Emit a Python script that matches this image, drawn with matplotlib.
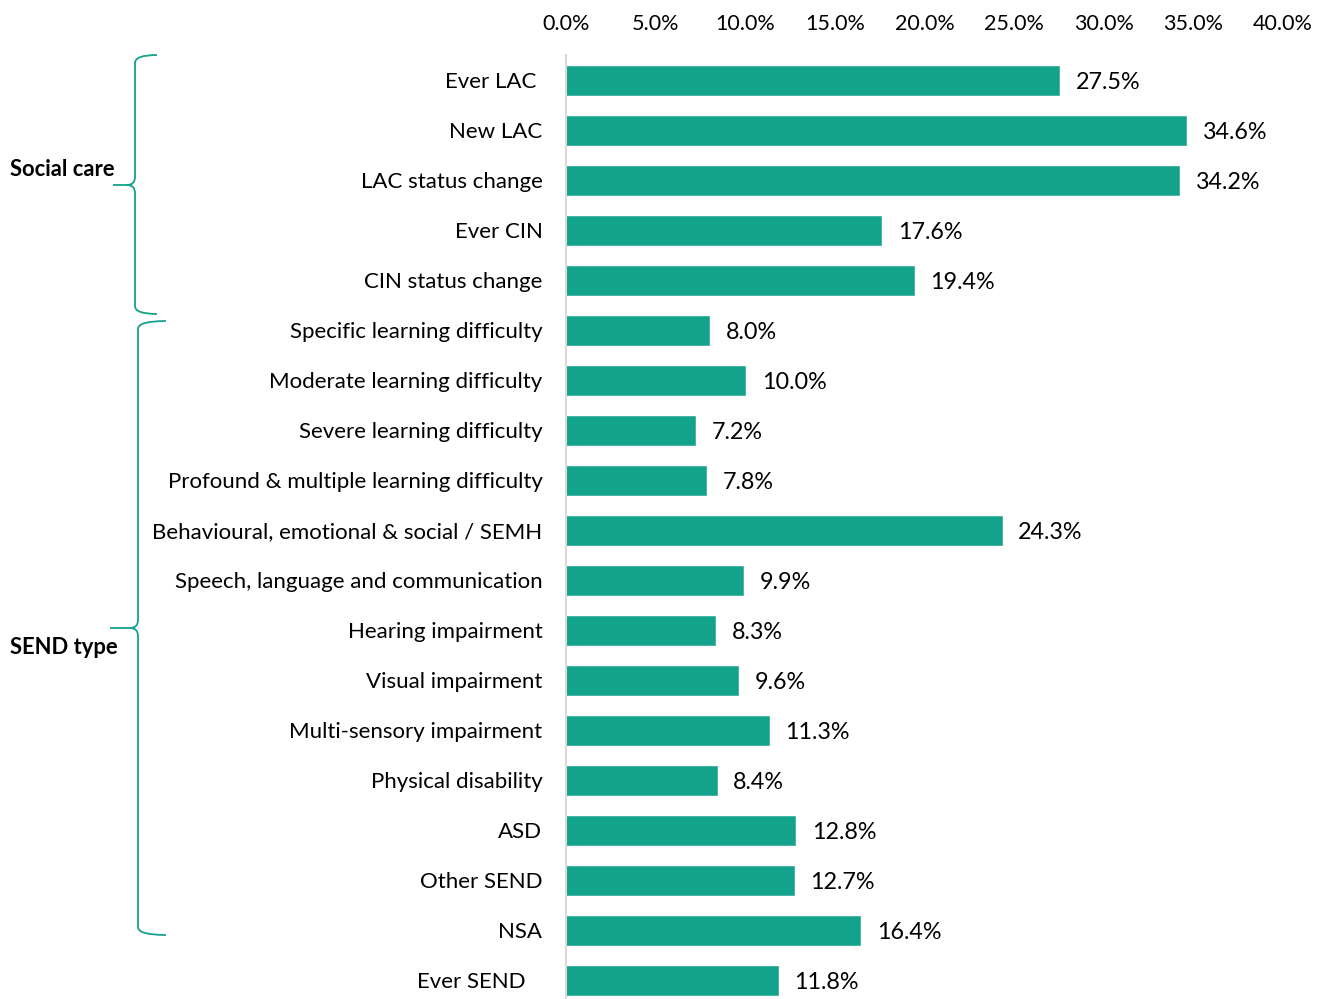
import matplotlib
matplotlib.use('Agg')
import matplotlib.pyplot as plt
from matplotlib.path import Path
from matplotlib.patches import PathPatch
from matplotlib.transforms import Affine2D, blended_transform_factory

categories = [
    "Ever LAC ", "New LAC", "LAC status change", "Ever CIN", "CIN status change",
    "Specific learning difficulty", "Moderate learning difficulty",
    "Severe learning difficulty", "Profound & multiple learning difficulty",
    "Behavioural, emotional & social / SEMH", "Speech, language and communication",
    "Hearing impairment", "Visual impairment", "Multi-sensory impairment",
    "Physical disability", "ASD", "Other SEND", "NSA", "Ever SEND   ",
]
values = [27.5, 34.6, 34.2, 17.6, 19.4, 8.0, 10.0, 7.2, 7.8, 24.3,
          9.9, 8.3, 9.6, 11.3, 8.4, 12.8, 12.7, 16.4, 11.8]
xticks = [0, 5, 10, 15, 20, 25, 30, 35, 40]
xtick_labels = ["0.0%", "5.0%", "10.0%", "15.0%", "20.0%", "25.0%", "30.0%", "35.0%", "40.0%"]
group_names = ["Social care", "SEND type"]
# bracket spans in row units: (top, tip, bottom)
group_spans = [(-0.5, 2.1, 4.68), (4.82, 10.96, 17.1)]

BAR = "#13A28B"
FONT = "Lato"
W, H = 1322, 999

fig = plt.figure(figsize=(W / 100, H / 100), dpi=100)
ax = fig.add_axes([566 / W, -6 / H, 717 / W, 950 / H])

ypos = list(range(len(categories)))
ax.barh(ypos, values, height=0.58, color=BAR, edgecolor="#3DB39E", linewidth=0.6)
ax.set_ylim(len(categories) - 0.5, -0.5)
ax.set_xlim(0, 40)

ax.xaxis.tick_top()
ax.set_xticks(xticks)
ax.set_xticklabels(xtick_labels, fontsize=15.5, family=FONT)
ax.tick_params(axis="x", length=0, pad=15)
ax.set_yticks(ypos)
ax.set_yticklabels(categories, fontsize=16, family=FONT)
ax.tick_params(axis="y", length=0, pad=17)

for s in ["top", "right", "bottom"]:
    ax.spines[s].set_visible(False)
ax.spines["left"].set_color("#D9D9D9")
ax.spines["left"].set_linewidth(1.5)

for y, v in zip(ypos, values):
    ax.annotate(f"{v:.1f}%", xy=(v, y), xytext=(12, -1.5), textcoords="offset points",
                ha="left", va="center", fontsize=16.8, family=FONT)

# brackets: x in pixels, y in data rows
xpix = Affine2D().scale(1 / W, 1) + fig.transFigure
trans = blended_transform_factory(xpix, ax.transData)
brace_x = [(135, 157, 113), (138, 166, 110)]  # vertical, arm end, tip
r = 0.16
for (yt, ytip, yb), (xv, xe, xt) in zip(group_spans, brace_x):
    verts = [(xe, yt), (xv, yt), (xv, yt + r),
             (xv, ytip - r), (xv, ytip), (xv - 8, ytip), (xt, ytip),
             (xv - 8, ytip), (xv, ytip), (xv, ytip + r),
             (xv, yb - r), (xv, yb), (xe, yb)]
    codes = [Path.MOVETO, Path.CURVE3, Path.CURVE3,
             Path.LINETO, Path.CURVE3, Path.CURVE3, Path.LINETO,
             Path.MOVETO, Path.CURVE3, Path.CURVE3,
             Path.LINETO, Path.CURVE3, Path.CURVE3]
    fig.add_artist(PathPatch(Path(verts, codes), transform=trans, fill=False,
                             edgecolor=BAR, linewidth=1.3, clip_on=False))

label_rows = [1.78, 11.34]
for name, yrow in zip(group_names, label_rows):
    fig.text(10 / W, yrow, name, transform=blended_transform_factory(fig.transFigure, ax.transData),
             ha="left", va="center", fontsize=15.8, fontweight="bold", family=FONT)

fig.savefig("out.png", dpi=100)
